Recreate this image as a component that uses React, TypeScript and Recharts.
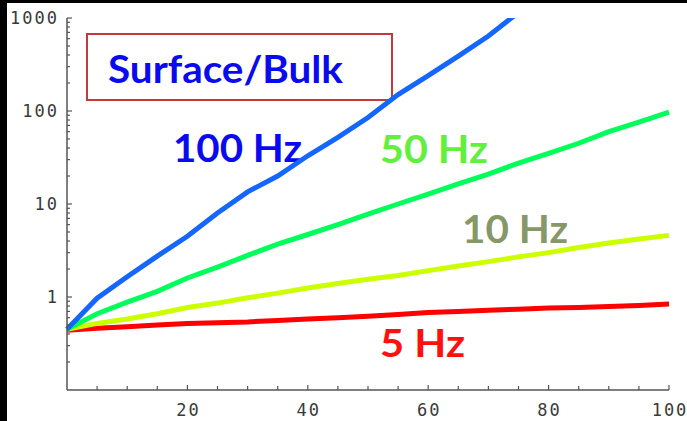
import React from "react";
import { LineChart, Line, XAxis, YAxis } from "recharts";

// x positions (shared by every curve)
const xs = [0, 5, 10, 15, 20, 25, 30, 35, 40, 45, 50, 55, 60, 65, 70, 75, 80, 85, 90, 95, 100];

// Surface/Bulk ratio
const hz100 = [0.45, 0.97, 1.65, 2.75, 4.5, 8.0, 13.5, 20, 33, 52, 85, 150, 240, 390, 640, 1150, null, null, null, null, null];
const hz50 = [0.45, 0.66, 0.88, 1.15, 1.6, 2.1, 2.8, 3.7, 4.7, 6.0, 7.8, 10, 12.8, 16.5, 21, 27.5, 35, 45, 60, 76, 97];
const hz10 = [0.45, 0.52, 0.58, 0.66, 0.77, 0.86, 0.98, 1.1, 1.25, 1.4, 1.55, 1.7, 1.92, 2.15, 2.4, 2.7, 3.0, 3.4, 3.8, 4.2, 4.6];
const hz5 = [0.44, 0.46, 0.48, 0.5, 0.52, 0.53, 0.54, 0.56, 0.58, 0.6, 0.62, 0.65, 0.68, 0.7, 0.72, 0.74, 0.76, 0.77, 0.79, 0.81, 0.84];

// ticks
const xTicks = [5, 10, 15, 20, 25, 30, 35, 40, 45, 50, 55, 60, 65, 70, 75, 80, 85, 90, 95, 100];
const xLabels = [20, 40, 60, 80, 100];
const decades = [0.1, 1, 10, 100];
const yLabels = [1, 10, 100, 1000];

const yTicks: number[] = [];
decades.forEach((d) => {
  [2, 3, 4, 5, 6, 7, 8, 9].forEach((m) => yTicks.push(+(d * m).toPrecision(3)));
});
yLabels.forEach((v) => yTicks.push(v));

const data = xs.map((x, i) => ({ x, a: hz100[i], b: hz50[i], c: hz10[i], d: hz5[i] }));

const AXIS = "#555";
const tickFont = { fontFamily: "'DejaVu Sans Mono', monospace", fontSize: 17, letterSpacing: 2, fill: "#3a3a3a" };

const LeftTick = (props: any) => {
  const { x, y, payload } = props;
  const major = yLabels.includes(payload.value);
  return (
    <g>
      <line x1={x} x2={x + (major ? 5 : 3)} y1={y} y2={y} stroke={AXIS} strokeWidth={1.2} />
      {major && (
        <text x={x - 8} y={y} textAnchor="end" dominantBaseline="central" {...tickFont}>
          {payload.value}
        </text>
      )}
    </g>
  );
};

const RightTick = (props: any) => {
  const { x, y, payload } = props;
  const major = yLabels.includes(payload.value);
  return <line x1={x} x2={x - (major ? 5 : 3)} y1={y} y2={y} stroke={AXIS} strokeWidth={1.2} />;
};

const BottomTick = (props: any) => {
  const { x, y, payload } = props;
  const major = xLabels.includes(payload.value);
  return (
    <g>
      <line x1={x} x2={x} y1={y} y2={y - (major ? 5 : 4)} stroke={AXIS} strokeWidth={1.2} />
      {major && (
        <text x={x + 1} y={y + 20} textAnchor="middle" dominantBaseline="central" {...tickFont}>
          {payload.value}
        </text>
      )}
    </g>
  );
};

const labelFont = { fontFamily: "Lato, 'DejaVu Sans', sans-serif", fontWeight: 700, fontSize: 38 };

export default function App() {
  return (
    <div style={{ position: "absolute", left: 0, top: 0, width: 687, height: 421, background: "#000" }}>
      <div style={{ position: "absolute", left: 7, top: 3, width: 680, height: 418, background: "#fff" }} />
      <svg style={{ position: "absolute", left: 0, top: 0 }} width={687} height={421}>
        <rect x={87} y={34} width={305} height={66} fill="none" stroke="#c43a3a" strokeWidth={2} />
        <text x={108} y={83} textLength={235} lengthAdjust="spacingAndGlyphs" fill="#0a0af0" {...labelFont}>Surface/Bulk</text>
        <text x={173} y={162} textLength={129} lengthAdjust="spacingAndGlyphs" fill="#0a0af0" {...labelFont}>100 Hz</text>
        <text x={380} y={163} textLength={108} lengthAdjust="spacingAndGlyphs" fill="#62f03e" {...labelFont}>50 Hz</text>
        <text x={462} y={243} textLength={106} lengthAdjust="spacingAndGlyphs" fill="#879868" {...labelFont}>10 Hz</text>
        <text x={380} y={357} textLength={85} lengthAdjust="spacingAndGlyphs" fill="#ff1010" {...labelFont}>5 Hz</text>
      </svg>
      <div style={{ position: "absolute", left: 7, top: 3 }}>
        <LineChart width={680} height={418} data={data} margin={{ top: 15, right: 18, bottom: 0, left: 0 }}>
          <XAxis
            dataKey="x"
            type="number"
            domain={[0, 100]}
            ticks={xTicks}
            interval={0}
            height={31}
            tickSize={0}
            tickMargin={0}
            tickLine={false}
            axisLine={{ stroke: AXIS, strokeWidth: 1.5 }}
            tick={BottomTick}
          />
          <XAxis
            xAxisId="top"
            orientation="top"
            dataKey="x"
            type="number"
            domain={[0, 100]}
            height={0}
            tick={false}
            tickLine={false}
            axisLine={{ stroke: AXIS, strokeWidth: 1.5 }}
          />
          <YAxis
            type="number"
            scale="log"
            domain={[0.1, 1000]}
            allowDataOverflow
            ticks={yTicks}
            interval={0}
            width={60}
            tickSize={0}
            tickMargin={0}
            tickLine={false}
            axisLine={{ stroke: AXIS, strokeWidth: 1.5 }}
            tick={LeftTick}
          />
          <YAxis
            yAxisId="right"
            orientation="right"
            type="number"
            scale="log"
            domain={[0.1, 1000]}
            allowDataOverflow
            ticks={yTicks}
            interval={0}
            width={0}
            tickSize={0}
            tickMargin={0}
            tickLine={false}
            axisLine={{ stroke: AXIS, strokeWidth: 1.5 }}
            tick={RightTick}
          />
          <Line dataKey="d" type="linear" stroke="#ff0000" strokeWidth={5} dot={false} isAnimationActive={false} />
          <Line dataKey="c" type="linear" stroke="#ccff00" strokeWidth={5} dot={false} isAnimationActive={false} />
          <Line dataKey="b" type="linear" stroke="#00ff5a" strokeWidth={5} dot={false} isAnimationActive={false} />
          <Line dataKey="a" type="linear" stroke="#1466ff" strokeWidth={5} dot={false} isAnimationActive={false} />
        </LineChart>
      </div>
    </div>
  );
}
